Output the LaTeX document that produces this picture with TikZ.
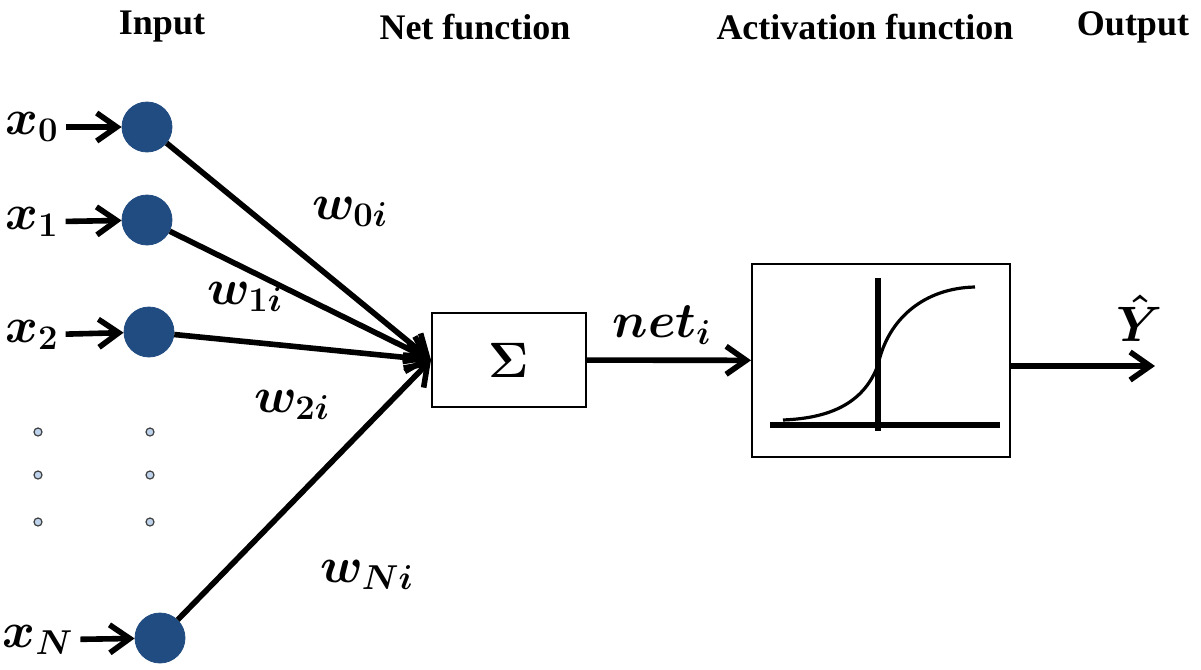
\documentclass[tikz,border=0pt]{standalone}
\usepackage{fontspec}
\setmainfont{Liberation Serif}
\usepackage{bm}
\usetikzlibrary{arrows.meta}

\definecolor{nodeblue}{RGB}{33,76,130}
\definecolor{dotblue}{RGB}{190,210,235}

\begin{document}
\begin{tikzpicture}[x=0.5pt,y=-0.5pt,>={Straight Barb[length=10pt,width=14pt]},
  in node/.style={circle,fill=nodeblue,draw=nodeblue,minimum size=25pt,inner sep=0pt},
  small dot/.style={circle,fill=dotblue,draw=black!75,line width=0.6pt,minimum size=4pt,inner sep=0pt},
  block/.style={draw,line width=1pt,fill=white,inner sep=0pt},
  head/.style={font=\fontsize{18}{20}\selectfont\bfseries},
  lab/.style={font=\fontsize{25}{27}\selectfont\boldmath},
  wire/.style={line width=2.8pt}]

 \useasboundingbox (0,0) rectangle (1201,670);

 % titles
 \node[head] (tin) at (162,27) {Input};
 \node[head] (tnet) at (475,27) {Net function};
 \node[head] (tact) at (865,27) {Activation function};
 \node[head] (tout) at (1133,27) {Output};

 % inputs
 \node[in node] (n0) at (147,127) {};
 \node[in node] (n1) at (147,220) {};
 \node[in node] (n2) at (149,332) {};
 \node[in node] (nN) at (160,638) {};
 \node[lab] (x0) at (32,127) {$x_0$};
 \node[lab] (x1) at (32,222) {$x_1$};
 \node[lab] (x2) at (32,335) {$x_2$};
 \node[lab] (xN) at (38,640) {$x_N$};

 \foreach \i/\y in {1/432,2/475,3/522} {
   \node[small dot] (da\i) at (38,\y) {};
   \node[small dot] (db\i) at (150,\y) {};
 }

 % blocks
 \node[block,minimum width=77pt,minimum height=47pt] (sum) at (509,360)
   {\fontsize{30}{30}\selectfont$\bm{\Sigma}$};
 \node[block,minimum width=129pt,minimum height=96.5pt] (act) at (881,360.5) {};
 \coordinate (out) at (1155,366);

 % sigmoid
 \draw[line width=3pt] (770,425) -- (1000,425);
 \draw[line width=3pt] (878,278) -- (878,431);
 \draw[line width=1.6pt] (783,420) .. controls (835,418) and (865,400) .. (878,365)
   .. controls (888,318) and (925,288) .. (975,287);

 % connectors
 \foreach \a/\b in {x0/n0,x1/n1,x2/n2,xN/nN}
   \draw[wire,->] (\a) -- (\b);
 \foreach \a in {n0,n1,n2,nN}
   \draw[wire,->] (\a) -- (sum.west);
 \draw[wire,->] (sum) -- (act);
 \draw[wire,->] (act.east |- out) -- (out);

 % labels
 \node[lab] (w0) at (350,212) {$w_{0i}$};
 \node[lab] (w1) at (245,297) {$w_{1i}$};
 \node[lab] (w2) at (292,405) {$w_{2i}$};
 \node[lab] (wN) at (367,575) {$w_{Ni}$};
 \node[lab] (net) at (662,325) {$net_i$};
 \node[lab] (yhat) at (1140,318) {$\hat{Y}$};
\end{tikzpicture}
\end{document}
